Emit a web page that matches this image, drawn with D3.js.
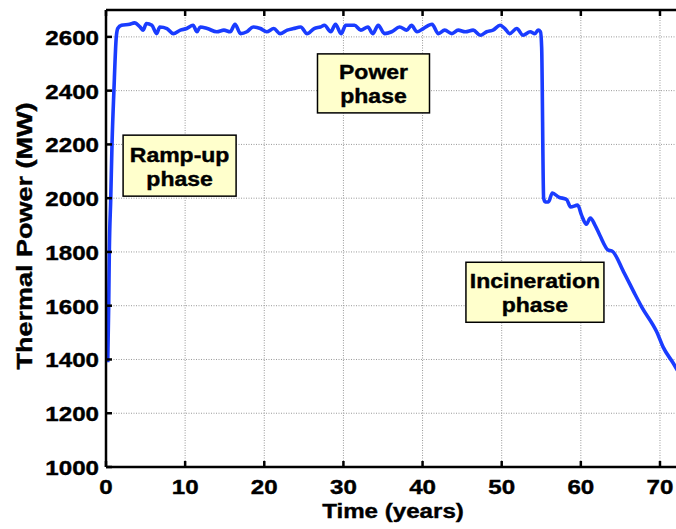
<!DOCTYPE html>
<html><head><meta charset="utf-8">
<script src="https://cdn.jsdelivr.net/npm/d3@7"></script>
<style>
body{margin:0;background:#fff}
svg{display:block}
text{font-family:"Liberation Sans",Arial,Helvetica,sans-serif;font-weight:bold;fill:#000;stroke:#000;stroke-width:0.4px}
</style>
</head><body>
<svg id="c" width="676" height="529"></svg>
<script>
// ---------------- data ----------------
const years = [0.22,0.34,0.42,0.6,0.76,1.0,1.3,1.5,1.96,3.0,3.6,4.3,4.7,5.1,5.8,6.4,6.8,7.7,8.5,9.4,10.2,11.0,11.5,11.9,12.8,14.0,14.9,15.7,16.3,17.0,17.8,18.6,19.5,20.3,21.2,22.0,22.9,23.7,24.6,25.4,26.3,27.1,27.6,28.4,29.0,29.7,30.3,31.4,32.2,33.1,33.7,34.4,35.2,36.1,37.1,38.0,38.6,39.3,40.1,41.2,42.0,42.8,43.7,44.5,45.4,46.4,47.3,48.1,48.9,49.8,50.4,51.0,51.9,52.7,53.6,54.2,54.6,54.9,55.05,55.3,55.5,55.9,56.4,57.2,58.2,58.7,59.6,60.1,60.7,61.2,61.8,62.4,63.5,63.9,65.4,66.8,67.7,69.6,70.4,71.7,72.2];
const power = [1390,1600,1800,2000,2200,2400,2600,2632,2643,2647,2652,2637,2625,2650,2643,2612,2637,2631,2612,2625,2631,2643,2619,2637,2631,2619,2625,2619,2647,2612,2619,2637,2631,2619,2631,2612,2625,2631,2637,2612,2631,2637,2643,2619,2647,2612,2643,2643,2625,2637,2612,2643,2612,2619,2637,2625,2643,2619,2631,2647,2612,2625,2612,2625,2619,2625,2606,2619,2625,2643,2631,2612,2631,2606,2619,2612,2625,2619,2560,2000,1986,1986,2019,2004,1995,1967,1974,1936,1903,1926,1899,1862,1806,1804,1726,1645,1595,1502,1446,1385,1360];
const xTicks = [0,10,20,30,40,50,60,70];
const yTicks = [1000,1200,1400,1600,1800,2000,2200,2400,2600];
const noteLabels = [["Ramp-up","phase"],["Power","phase"],["Incineration","phase"]];
const xTitle = "Time (years)";
const yTitle = "Thermal Power (MW)";

// ---------------- layout ----------------
const W = 676, H = 529;
const L = 106, T = 10, B = 467;
const SX = 1.15; // horizontal text stretch
const x = d3.scaleLinear().domain([0,75]).range([L, L + 75*7.914]);
const y = d3.scaleLinear().domain([1000,2700]).range([B, T]);
const notePos = [
  {cx:9.3, cy:2121, w:113, h:61},
  {cx:33.8, cy:2427, w:112, h:59},
  {cx:54.2, cy:1650, w:138, h:60}
];

const svg = d3.select("#c");

// grid
const grid = svg.append("g").attr("stroke","#999").attr("stroke-width",1).attr("stroke-dasharray","1,1.5");
grid.selectAll("line.v").data(xTicks).join("line")
  .attr("x1",d=>x(d)).attr("x2",d=>x(d)).attr("y1",T).attr("y2",B);
grid.selectAll("line.h").data(yTicks).join("line")
  .attr("x1",L).attr("x2",W).attr("y1",d=>y(d)).attr("y2",d=>y(d));

// notes boxes
const notes = svg.append("g");
noteLabels.forEach((lines,i)=>{
  const p = notePos[i];
  const cx = x(p.cx), cy = y(p.cy);
  notes.append("rect").attr("x",cx-p.w/2).attr("y",cy-p.h/2).attr("width",p.w).attr("height",p.h)
    .attr("fill","#ffffcc").attr("stroke","#000").attr("stroke-width",1.5);
  lines.forEach((s,j)=>{
    notes.append("text").attr("text-anchor","middle").attr("font-size",20)
      .attr("transform",`translate(${cx},${cy - 4 + j*24}) scale(${SX},1)`).text(s);
  });
});

// line
const line = d3.line().x((d,i)=>x(years[i])).y(d=>y(d)).curve(d3.curveMonotoneX);
svg.append("path").datum(power).attr("d",line).attr("fill","none")
  .attr("stroke","#1a3cff").attr("stroke-width",3.6).attr("stroke-linejoin","round");

// axes
const ax = svg.append("g").attr("stroke","#000");
ax.append("line").attr("x1",L).attr("x2",L).attr("y1",T).attr("y2",B).attr("stroke-width",2.5);
ax.append("line").attr("x1",L).attr("x2",W).attr("y1",B).attr("y2",B).attr("stroke-width",2.5);
ax.append("line").attr("x1",L).attr("x2",W).attr("y1",T).attr("y2",T).attr("stroke-width",2.5);
ax.selectAll("line.xb").data(xTicks).join("line").attr("x1",d=>x(d)).attr("x2",d=>x(d)).attr("y1",B).attr("y2",B-6).attr("stroke-width",2.5);
ax.selectAll("line.xt").data(xTicks).join("line").attr("x1",d=>x(d)).attr("x2",d=>x(d)).attr("y1",T).attr("y2",T+6).attr("stroke-width",2.5);
ax.selectAll("line.yl").data(yTicks).join("line").attr("x1",L).attr("x2",L+6).attr("y1",d=>y(d)).attr("y2",d=>y(d)).attr("stroke-width",2.5);

// tick labels
svg.append("g").selectAll("text").data(xTicks).join("text")
  .attr("text-anchor","middle").attr("font-size",21)
  .attr("transform",d=>`translate(${x(d)},${494}) scale(${SX},1)`).text(d=>d);
svg.append("g").selectAll("text").data(yTicks).join("text")
  .attr("text-anchor","end").attr("font-size",21)
  .attr("transform",d=>`translate(${99},${y(d)+8}) scale(${SX},1)`).text(d=>d);

// titles
svg.append("text").attr("text-anchor","middle").attr("font-size",21)
  .attr("transform",`translate(${393},${518}) scale(${SX},1)`).text(xTitle);
svg.append("text").attr("text-anchor","middle").attr("font-size",22.5)
  .attr("transform",`translate(${32},${236}) rotate(-90) scale(1.2,1)`).text(yTitle);
</script>
</body></html>
